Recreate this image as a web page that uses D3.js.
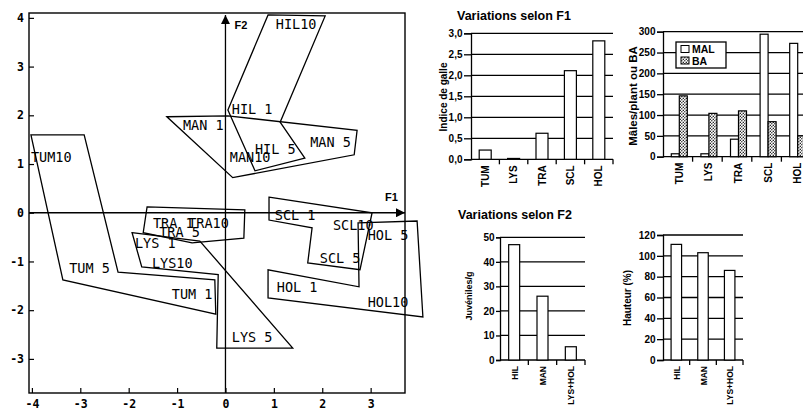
<!DOCTYPE html>
<html>
<head>
<meta charset="utf-8">
<script src="https://cdn.jsdelivr.net/npm/d3@7"></script>
<style>
body { margin: 0; background: #fff; }
svg { display: block; }
.mono { font-family: "DejaVu Sans Mono", monospace; }
.sans { font-family: "Liberation Sans", Arial, sans-serif; font-weight: bold; }
</style>
</head>
<body>
<div id="chart"></div>
<script>
// Plan F1 x F2 : enveloppes par groupe (sommets)
const hullNames = ["TUM", "LYS", "TRA", "HIL", "MAN", "SCL", "HOL"];
const hullTUM = [[-4.02, 1.60], [-2.92, 1.60], [-2.22, -1.22], [-0.22, -1.38], [-0.20, -2.08], [-3.36, -1.38]];
const hullLYS = [[-1.93, -0.41], [-0.53, -0.58], [1.39, -2.78], [-0.18, -2.78], [-0.15, -1.27], [-1.73, -1.11]];
const hullTRA = [[-1.62, 0.12], [0.40, 0.06], [0.38, -0.52], [-0.69, -0.62], [-1.70, -0.41]];
const hullHIL = [[0.88, 4.06], [2.06, 4.04], [1.13, 1.86], [1.64, 1.12], [0.61, 0.86], [0.05, 2.11]];
const hullMAN = [[-1.21, 1.97], [0.05, 1.99], [2.72, 1.69], [2.66, 1.19], [0.15, 0.72]];
const hullSCL = [[0.90, 0.32], [3.03, 0.00], [2.78, -1.17], [1.70, -1.03], [1.79, -0.31], [0.90, -0.15]];
const hullHOL = [[2.74, -0.21], [3.96, -0.17], [4.08, -2.14], [0.88, -1.75], [0.88, -1.17], [2.76, -1.52]];
const hulls = [hullTUM, hullLYS, hullTRA, hullHIL, hullMAN, hullSCL, hullHOL];

// Etiquettes des points (position du debut du texte)
const pointLabels = ["TUM10", "TUM 5", "TUM 1", "LYS 1", "LYS10", "LYS 5", "TRA 1", "TRA10", "TRA 5",
    "HIL10", "HIL 1", "HIL 5", "MAN 1", "MAN10", "MAN 5", "SCL 1", "SCL10", "SCL 5", "HOL 5", "HOL 1", "HOL10"];
const pointF1 = [-4.02, -3.23, -1.11, -1.87, -1.52, 0.13, -1.50, -0.77, -1.37,
    1.04, 0.13, 0.61, -0.88, 0.09, 1.75, 1.02, 2.22, 1.95, 2.94, 1.06, 2.94];
const pointF2 = [1.15, -1.13, -1.68, -0.62, -1.03, -2.55, -0.21, -0.21, -0.39,
    3.88, 2.13, 1.31, 1.80, 1.15, 1.45, -0.04, -0.25, -0.93, -0.45, -1.52, -1.83];

const f1Ticks = [-4, -3, -2, -1, 0, 1, 2, 3];
const f2Ticks = [-3, -2, -1, 0, 1, 2, 3, 4];

// Histogrammes
const f1Cats = ["TUM", "LYS", "TRA", "SCL", "HOL"];
const galle = [0.22, 0.02, 0.62, 2.11, 2.82];
const males = [7, 7, 42, 294, 272];
const ba = [146, 104, 110, 84, 50];
const f2Cats = ["HIL", "MAN", "LYS+HOL"];
const juveniles = [47, 26, 5.4];
const hauteur = [111, 103, 86];

const svg = d3.select("#chart")
    .append("svg")
    .attr("width", 803)
    .attr("height", 408);

// motif pointille pour BA
const pat = svg.append("defs").append("pattern")
    .attr("id", "dots")
    .attr("width", 3)
    .attr("height", 3)
    .attr("patternUnits", "userSpaceOnUse");
pat.append("rect").attr("width", 3).attr("height", 3).attr("fill", "#fff");
pat.append("circle").attr("cx", 0.8).attr("cy", 0.8).attr("r", 0.75).attr("fill", "#222");
pat.append("circle").attr("cx", 2.3).attr("cy", 2.3).attr("r", 0.75).attr("fill", "#222");

svg.select("defs").append("marker")
    .attr("id", "arrow")
    .attr("viewBox", "0 0 10 10")
    .attr("refX", 10)
    .attr("refY", 5)
    .attr("markerWidth", 14)
    .attr("markerHeight", 9)
    .attr("markerUnits", "userSpaceOnUse")
    .attr("orient", "auto")
    .append("path")
    .attr("d", "M0,0L10,5L0,10Z")
    .attr("fill", "#000");

// ---------- scatter ----------
const x = d3.scaleLinear().domain([-4.06, 3.71]).range([29, 405]);
const y = d3.scaleLinear().domain([-3.7, 4.1]).range([393, 13]);

const plot = svg.append("g");

plot.append("rect")
    .attr("x", x(-4.06))
    .attr("y", y(4.1))
    .attr("width", x(3.71) - x(-4.06))
    .attr("height", y(-3.7) - y(4.1))
    .attr("fill", "none")
    .attr("stroke", "#000")
    .attr("stroke-width", 1.4);

const xAxis = plot.append("g")
    .attr("transform", `translate(0, ${y(-3.7)})`)
    .call(d3.axisBottom(x).tickValues(f1Ticks).tickSize(-5).tickPadding(7).tickFormat(d => String(d)));
const yAxis = plot.append("g")
    .attr("transform", `translate(${x(-4.06)}, 0)`)
    .call(d3.axisLeft(y).tickValues(f2Ticks).tickSize(-5).tickPadding(5).tickFormat(d => String(d)));
[xAxis, yAxis].forEach(a => {
    a.select(".domain").remove();
    a.selectAll("line").attr("stroke", "#000").attr("stroke-width", 1.2);
    a.selectAll("text")
        .attr("class", "mono")
        .attr("font-size", 11.5)
        .attr("font-weight", "bold")
        .attr("fill", "#000");
});

// axes F1 / F2 avec fleches
plot.append("line")
    .attr("x1", x(-4.06)).attr("x2", 405)
    .attr("y1", y(0)).attr("y2", y(0))
    .attr("stroke", "#000").attr("stroke-width", 1.3)
    .attr("marker-end", "url(#arrow)");
plot.append("line")
    .attr("x1", x(0)).attr("x2", x(0))
    .attr("y1", y(-3.7)).attr("y2", 15)
    .attr("stroke", "#000").attr("stroke-width", 1.3)
    .attr("marker-end", "url(#arrow)");
plot.append("text").attr("class", "sans").attr("font-size", 11)
    .attr("x", x(0) + 9).attr("y", 29).text("F2");
plot.append("text").attr("class", "sans").attr("font-size", 11)
    .attr("x", 385).attr("y", 201).text("F1");

const hullLine = d3.line()
    .x(d => x(d[0]))
    .y(d => y(d[1]))
    .curve(d3.curveLinearClosed);

plot.selectAll(".hull")
    .data(hulls)
    .enter()
    .append("path")
    .attr("class", "hull")
    .attr("d", hullLine)
    .attr("fill", "none")
    .attr("stroke", "#000")
    .attr("stroke-width", 1.3)
    .attr("stroke-linejoin", "miter");

plot.selectAll(".plabel")
    .data(pointLabels)
    .enter()
    .append("text")
    .attr("class", "plabel mono")
    .attr("x", (d, i) => x(pointF1[i]))
    .attr("y", (d, i) => y(pointF2[i]))
    .attr("dy", "0.36em")
    .attr("font-size", 13.5)
    .attr("xml:space", "preserve")
    .style("white-space", "pre")
    .text(d => d);

// ---------- histogrammes ----------
function barChart(cfg) {
    const g = svg.append("g");
    const xb = d3.scaleBand().domain(cfg.cats).range([cfg.x0, cfg.x1]).padding(0);
    const yb = d3.scaleLinear().domain([0, cfg.yMax]).range([cfg.yBottom, cfg.yTop]);
    const ticks = d3.range(0, cfg.yMax + cfg.step / 2, cfg.step);

    // lignes de grille
    g.selectAll(".grid")
        .data(ticks)
        .enter()
        .append("line")
        .attr("x1", cfg.x0).attr("x2", cfg.gridRight)
        .attr("y1", d => yb(d)).attr("y2", d => yb(d))
        .attr("stroke", "#000")
        .attr("stroke-width", 1.3);

    const ya = g.append("g")
        .attr("transform", `translate(${cfg.x0}, 0)`)
        .call(d3.axisLeft(yb).tickValues(ticks).tickSize(cfg.tickSize).tickPadding(1.5).tickFormat(cfg.fmt));
    ya.select(".domain").attr("stroke", "#000").attr("stroke-width", 1.3);
    ya.selectAll("line").attr("stroke", "#000").attr("stroke-width", 1.3);
    ya.selectAll("text").attr("class", "sans").attr("font-size", 10).attr("fill", "#000");

    // petits traits entre les categories
    g.selectAll(".xtick")
        .data(cfg.cats)
        .enter()
        .append("line")
        .attr("x1", d => xb(d) + xb.bandwidth()).attr("x2", d => xb(d) + xb.bandwidth())
        .attr("y1", cfg.yBottom).attr("y2", cfg.yBottom + 5)
        .attr("stroke", "#000")
        .attr("stroke-width", 1.3);

    const n = cfg.series.length;
    const groupW = cfg.barW * n;
    cfg.series.forEach((vals, s) => {
        g.selectAll(".bar" + s)
            .data(cfg.cats)
            .enter()
            .append("rect")
            .attr("x", d => xb(d) + xb.bandwidth() / 2 + cfg.shift - groupW / 2 + s * cfg.barW)
            .attr("y", (d, i) => yb(vals[i]))
            .attr("width", cfg.barW)
            .attr("height", (d, i) => cfg.yBottom - yb(vals[i]))
            .attr("fill", cfg.fills[s])
            .attr("stroke", "#000")
            .attr("stroke-width", 1.2);
    });

    g.selectAll(".xlab")
        .data(cfg.cats)
        .enter()
        .append("text")
        .attr("class", "sans")
        .attr("font-size", cfg.labelSize)
        .attr("text-anchor", "end")
        .attr("transform", d => `translate(${xb(d) + xb.bandwidth() / 2 + cfg.shift + 3.5}, ${cfg.yBottom + 6}) rotate(-90)`)
        .text(d => d);

    g.append("text")
        .attr("class", "sans")
        .attr("font-size", cfg.titleSize)
        .attr("text-anchor", "middle")
        .attr("transform", `translate(${cfg.titleX}, ${cfg.titleY}) rotate(-90)`)
        .text(cfg.yTitle);
    return g;
}

svg.append("text").attr("class", "sans").attr("font-size", 12.5)
    .attr("x", 457).attr("y", 20).text("Variations selon F1");
svg.append("text").attr("class", "sans").attr("font-size", 12.5)
    .attr("x", 458).attr("y", 219).text("Variations selon F2");

barChart({
    cats: f1Cats, series: [galle], fills: ["#fff"],
    x0: 471, x1: 613, gridRight: 613, yTop: 33.3, yBottom: 159.3, yMax: 3, step: 0.5,
    fmt: d3.format(".1f"), tickSize: 7, barW: 12, shift: 0, labelSize: 10,
    yTitle: "Indice de galle", titleX: 447, titleY: 97, titleSize: 10
}).selectAll("g.tick text").text(d => d3.format(".1f")(d).replace(".", ","));

const chartB = barChart({
    cats: f1Cats, series: [males, ba], fills: ["#fff", "url(#dots)"],
    x0: 663, x1: 811, gridRight: 803, yTop: 31.7, yBottom: 156.7, yMax: 300, step: 50,
    fmt: d3.format("d"), tickSize: 6, barW: 8, shift: 1.5, labelSize: 10,
    yTitle: "Mâles/plant ou BA", titleX: 637, titleY: 96, titleSize: 11.5
});

// legende MAL / BA
const legendNames = ["MAL", "BA"];
const legendFills = ["#fff", "url(#dots)"];
const leg = chartB.append("g");
leg.append("rect")
    .attr("x", 676).attr("y", 42).attr("width", 50).attr("height", 26)
    .attr("fill", "#fff").attr("stroke", "#000").attr("stroke-width", 1.3);
leg.selectAll(".lsw")
    .data(legendNames)
    .enter()
    .append("rect")
    .attr("x", 681).attr("y", (d, i) => 45.5 + i * 11.5)
    .attr("width", 8).attr("height", 7)
    .attr("fill", (d, i) => legendFills[i])
    .attr("stroke", "#000").attr("stroke-width", 1);
leg.selectAll(".ltx")
    .data(legendNames)
    .enter()
    .append("text")
    .attr("class", "sans").attr("font-size", 10.5)
    .attr("x", 692).attr("y", (d, i) => 53 + i * 11.5)
    .text(d => d);

barChart({
    cats: f2Cats, series: [juveniles], fills: ["#fff"],
    x0: 500, x1: 585, gridRight: 585, yTop: 237.3, yBottom: 360, yMax: 50, step: 10,
    fmt: d3.format("d"), tickSize: 4, barW: 11, shift: 0, labelSize: 8.5,
    yTitle: "Juvéniles/g", titleX: 472, titleY: 296, titleSize: 9
});

barChart({
    cats: f2Cats, series: [hauteur], fills: ["#fff"],
    x0: 663, x1: 743, gridRight: 743, yTop: 235, yBottom: 360, yMax: 120, step: 20,
    fmt: d3.format("d"), tickSize: 6, barW: 10.5, shift: 0, labelSize: 8.5,
    yTitle: "Hauteur (%)", titleX: 631, titleY: 298, titleSize: 10
});
</script>
</body>
</html>
